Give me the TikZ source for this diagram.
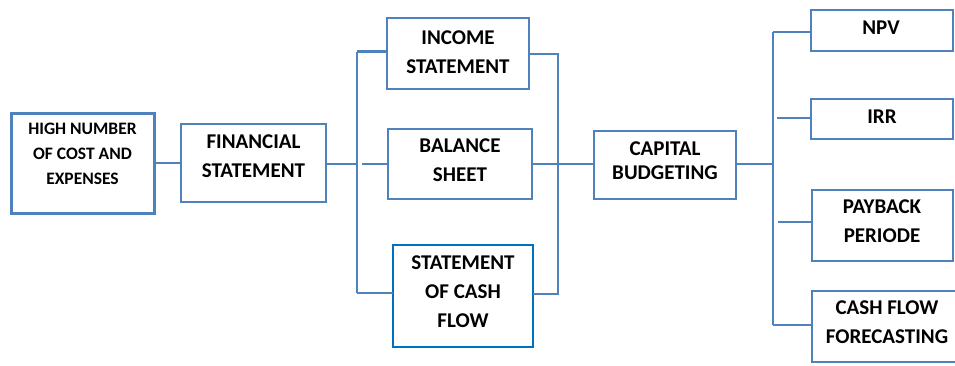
\documentclass[tikz,border=0pt]{standalone}
\usepackage{fontspec}
\setmainfont{Carlito}
\definecolor{lineblue}{HTML}{4F81BD}
\definecolor{brightblue}{HTML}{0070C0}
\tikzset{
  boxst/.style={draw=lineblue, line width=2pt, fill=white, inner sep=0pt, outer sep=0pt},
  lbl/.style={align=center, inner sep=0pt, text=black, font=\bfseries\fontsize{21}{29}\selectfont},
  conn/.style={draw=lineblue, line width=2.5pt}
}
\begin{document}
\begin{tikzpicture}[x=1pt,y=-1pt]
\useasboundingbox (0,0) rectangle (955,365);
% boxes
\node[boxst, line width=3pt, minimum width=143pt, minimum height=100pt] (b1) at (82.5,163) {};
\node[boxst, minimum width=145pt, minimum height=78pt] (b2) at (253.5,163) {};
\node[boxst, minimum width=142pt, minimum height=71pt] (inc) at (458,53.5) {};
\node[boxst, minimum width=144pt, minimum height=70pt] (bal) at (460,163.5) {};
\node[boxst, draw=brightblue, line width=2.3pt, minimum width=140pt, minimum height=102pt] (scf) at (463,296) {};
\node[boxst, minimum width=142pt, minimum height=68pt] (cap) at (665,165) {};
\node[boxst, minimum width=142pt, minimum height=41pt] (npv) at (882,30.5) {};
\node[boxst, minimum width=142pt, minimum height=40pt] (irr) at (882,119) {};
\node[boxst, minimum width=141pt, minimum height=71pt] (pay) at (882.5,225.5) {};
\node[boxst, minimum width=144pt, minimum height=71pt] (cfl) at (884,326.5) {};
% labels
\node[lbl, font=\bfseries\fontsize{17.5}{25}\selectfont] (t1) at (82.5,154) {HIGH NUMBER\\OF COST AND\\EXPENSES};
\node[lbl] (t2) at (253.5,156.5) {FINANCIAL\\STATEMENT};
\node[lbl] (t3) at (458,52.5) {INCOME\\STATEMENT};
\node[lbl] (t4) at (460,160.5) {BALANCE\\SHEET};
\node[lbl] (t5) at (463,292) {STATEMENT\\OF CASH\\FLOW};
\node[lbl, font=\bfseries\fontsize{21}{24}\selectfont] (t6) at (665,160.5) {CAPITAL\\BUDGETING};
\node[lbl] (t7) at (881,28) {NPV};
\node[lbl] (t8) at (882,117) {IRR};
\node[lbl] (t9) at (882,221.5) {PAYBACK\\PERIODE};
\node[lbl] (t10) at (887,322.5) {CASH FLOW\\FORECASTING};
% bus coordinates
\coordinate (lbT) at (357,51.5);
\coordinate (lbB) at (357,293);
\coordinate (lbM) at (357,164);
\coordinate (lm) at (362,164);
\coordinate (rbT) at (558,54);
\coordinate (rbB) at (558,294);
\coordinate (cb) at (773,164);
\coordinate (cbT) at (773,32);
\coordinate (cbB) at (773,325);
\coordinate (c2) at (777,118);
\coordinate (c3) at (778,222);
% connectors
\draw[conn] (b1.east |- b2.west) -- (b2.west);
\draw[conn] (b2.east |- lbM) -- (lbM);
\draw[conn] (lbT) -- (lbB);
\draw[conn] (lbT) -- (lbT -| inc.west);
\draw[conn] (lm) -- (lm -| bal.west);
\draw[conn] (lbB) -- (lbB -| scf.west);
\draw[conn] (inc.east |- rbT) -- (rbT) -- (rbB) -- (scf.east |- rbB);
\draw[conn] (bal.east |- lbM) -- (lbM -| cap.west);
\draw[conn] (cap.east |- cb) -- (cb);
\draw[conn] (cbT) -- (cbB);
\draw[conn] (cbT) -- (cbT -| npv.west);
\draw[conn] (c2) -- (c2 -| irr.west);
\draw[conn] (c3) -- (c3 -| pay.west);
\draw[conn] (cbB) -- (cbB -| cfl.west);
\end{tikzpicture}
\end{document}
